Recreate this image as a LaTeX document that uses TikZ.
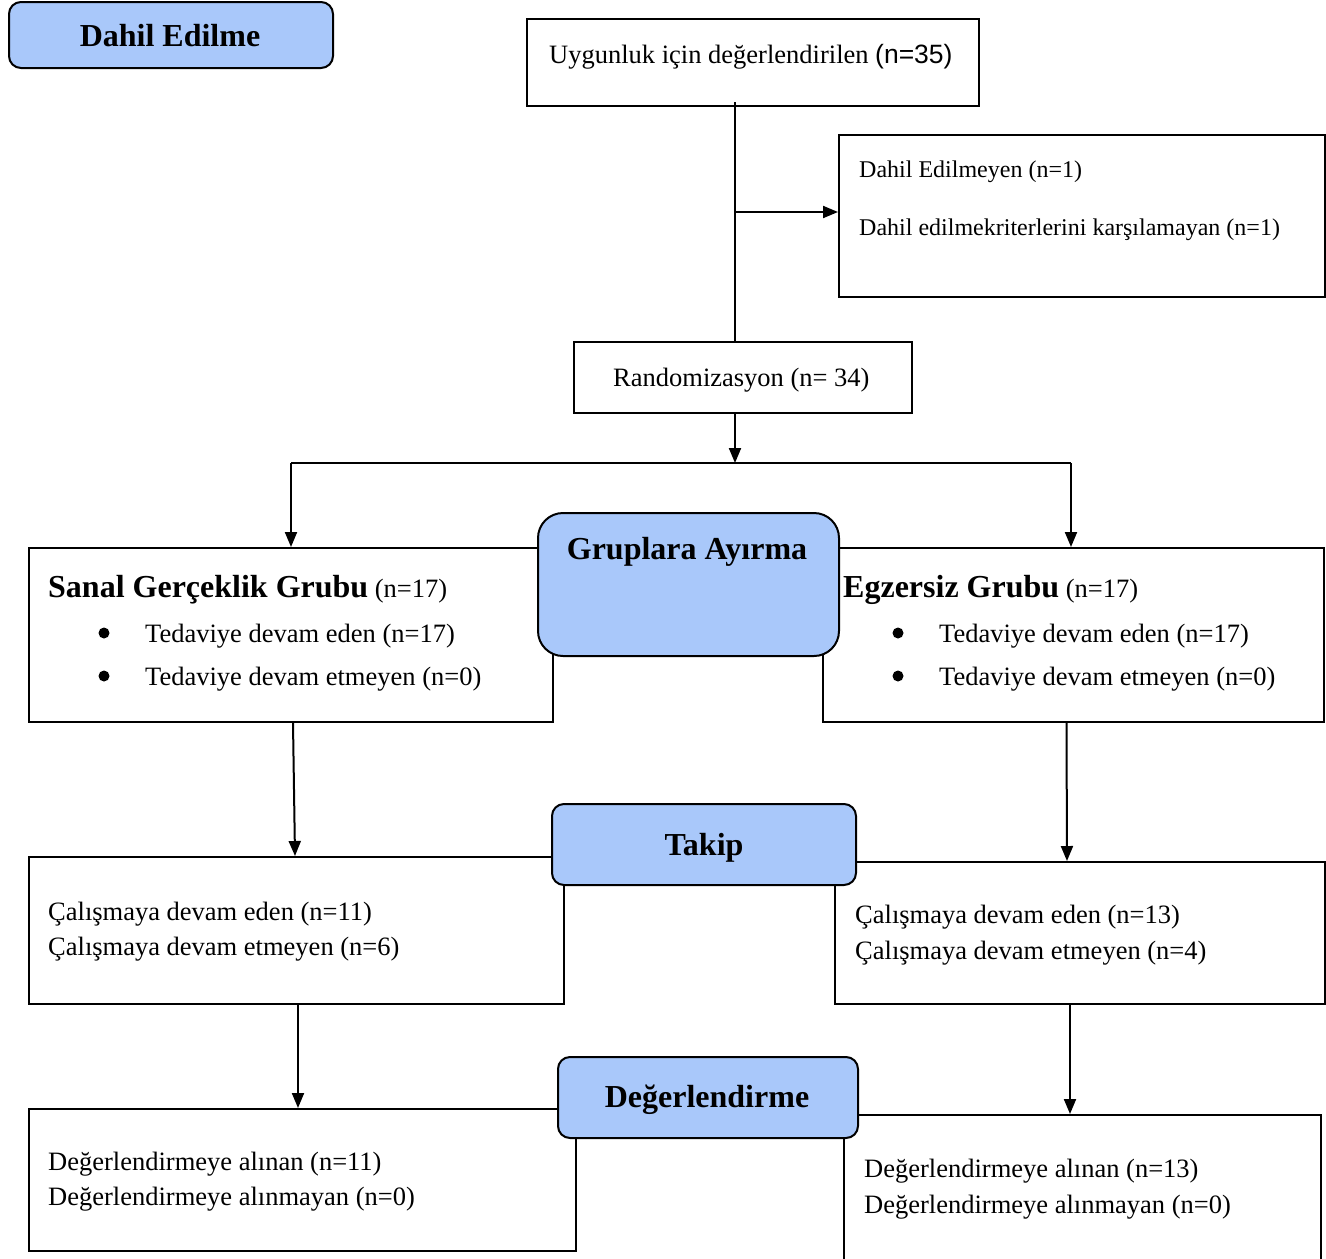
\documentclass[tikz,border=0pt]{standalone}
\usepackage{fontspec}
\setmainfont{Liberation Serif}
\newfontfamily\arialfont{Liberation Sans}
\usetikzlibrary{arrows.meta}
\definecolor{phaseblue}{RGB}{169,200,250}
\newcommand\fbody{\fontsize{26.5}{32}\selectfont}
\newcommand\fsmall{\fontsize{24}{29}\selectfont}
\newcommand\fhead{\fontsize{32}{38}\selectfont\bfseries}
\begin{document}
\begin{tikzpicture}[x=1pt,y=-1pt,
  box/.style={draw, line width=2pt, fill=white, inner sep=0pt, anchor=north west},
  phase/.style={draw, line width=2pt, fill=phaseblue, rounded corners=12pt, inner sep=0pt, anchor=north west},
  txt/.style={anchor=west, inner sep=0pt, font=\fbody},
  stxt/.style={anchor=west, inner sep=0pt, font=\fsmall},
  htxt/.style={inner sep=0pt, font=\fhead},
  bul/.style={circle, fill=black, inner sep=0pt, minimum size=11pt},
  conn/.style={line width=2pt},
  arr/.style={line width=2pt, -{Triangle[length=15pt,width=12pt]}}]
\useasboundingbox (0,0) rectangle (1326,1259);
\clip (0,0) rectangle (1326,1259);
% white boxes
\node[box, minimum width=452pt, minimum height=87pt] (uyg) at (526,18) {};
\node[box, minimum width=486pt, minimum height=162pt] (excl) at (838,134) {};
\node[box, minimum width=338pt, minimum height=71pt] (rand) at (573,341) {};
\node[box, minimum width=524pt, minimum height=174pt] (sanal) at (28,547) {};
\node[box, minimum width=501pt, minimum height=174pt] (egz) at (822,547) {};
\node[box, minimum width=535pt, minimum height=147pt] (calL) at (28,856) {};
\node[box, minimum width=490pt, minimum height=142pt] (calR) at (834,861) {};
\node[box, minimum width=547pt, minimum height=142pt] (degL) at (28,1108) {};
\node[box, minimum width=477pt, minimum height=160pt] (degR) at (843,1114) {};
% connectors
\coordinate (spine) at (735,0);
\coordinate (split) at (735,463);
\draw[conn] (uyg.south -| spine) ++(0,-5) -- (rand.north -| spine);
\draw[arr] ([yshift=4pt]excl.west -| spine) -- ([yshift=4pt]excl.west);
\draw[arr] (rand.south -| spine) -- (split);
\draw[conn] (sanal.north |- split) -- ([xshift=-2.5pt]egz.north |- split);
\draw[arr] (sanal.north |- split) -- (sanal.north);
\draw[arr] ([xshift=-2.5pt]egz.north |- split) -- ([xshift=-2.5pt]egz.north);
\draw[arr] ([xshift=2pt]sanal.south) -- ([xshift=-1.5pt]calL.north);
\draw[arr] ([xshift=-7pt]egz.south) -- ([xshift=-13pt]calR.north);
\draw[arr] ([xshift=1.5pt]calL.south) -- ([xshift=1.5pt]calL.south |- degL.north);
\draw[arr] ([xshift=-10pt]calR.south) -- ([xshift=-10pt]calR.south |- degR.north);
% phase boxes
\node[phase, minimum width=324pt, minimum height=66pt] (p1) at (8,1) {};
\node[phase, rounded corners=25pt, minimum width=301pt, minimum height=143pt] (p2) at (537,512) {};
\node[phase, minimum width=304pt, minimum height=81pt] (p3) at (551,803) {};
\node[phase, minimum width=300pt, minimum height=81pt] (p4) at (557,1056) {};
\node[htxt] (t1) at (170,36) {Dahil Edilme};
\node[htxt] (t2) at (687,552) {Gruplara Ayırma};
\node[htxt] (t3) at (704,848) {Takip};
\node[htxt] (t4) at (707,1100) {Değerlendirme};
% texts
\node[txt] (u1) at (549,57) {Uygunluk için değerlendirilen {\arialfont(n=35)}};
\node[stxt] (e1) at (859,172) {Dahil Edilmeyen (n=1)};
\node[stxt] (e2) at (859,230) {Dahil edilmekriterlerini karşılamayan (n=1)};
\node[txt] (r1) at (613,380) {Randomizasyon (n= 34)};
\node[txt] (s0) at (48,590) {{\fhead Sanal Gerçeklik Grubu} (n=17)};
\node[bul] (sb1) at (104,633) {};
\node[txt] (s1) at (145,636) {Tedaviye devam eden (n=17)};
\node[bul] (sb2) at (104,676) {};
\node[txt] (s2) at (145,679) {Tedaviye devam etmeyen (n=0)};
\node[txt] (g0) at (843,590) {{\fhead Egzersiz Grubu} (n=17)};
\node[bul] (gb1) at (898,633) {};
\node[txt] (g1) at (939,636) {Tedaviye devam eden (n=17)};
\node[bul] (gb2) at (898,676) {};
\node[txt] (g2) at (939,679) {Tedaviye devam etmeyen (n=0)};
\node[txt] (cl1) at (48,914) {Çalışmaya devam eden (n=11)};
\node[txt] (cl2) at (48,949) {Çalışmaya devam etmeyen (n=6)};
\node[txt] (cr1) at (855,917) {Çalışmaya devam eden (n=13)};
\node[txt] (cr2) at (855,953) {Çalışmaya devam etmeyen (n=4)};
\node[txt] (dl1) at (48,1164) {Değerlendirmeye alınan (n=11)};
\node[txt] (dl2) at (48,1199) {Değerlendirmeye alınmayan (n=0)};
\node[txt] (dr1) at (864,1171) {Değerlendirmeye alınan (n=13)};
\node[txt] (dr2) at (864,1207) {Değerlendirmeye alınmayan (n=0)};
\end{tikzpicture}
\end{document}
